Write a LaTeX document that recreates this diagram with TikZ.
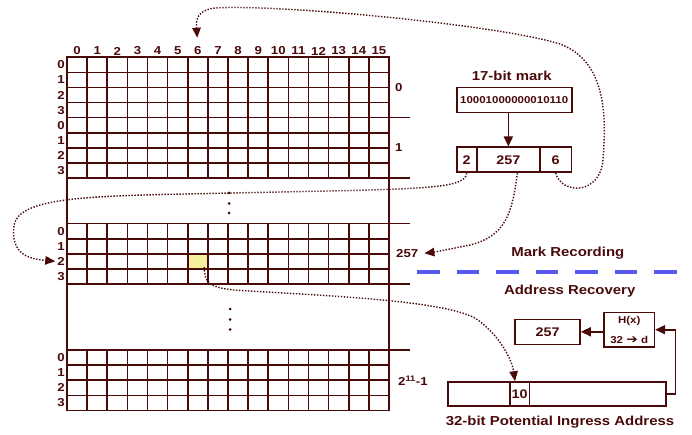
\documentclass[tikz,border=0pt]{standalone}
\usepackage{fontspec}
\setmainfont{Liberation Sans}[FakeStretch=1.15]
\newfontfamily\symfont{DejaVu Sans}[FakeStretch=1.15]
\usetikzlibrary{arrows.meta,calc}
\definecolor{markRed}{HTML}{4A0A0A}
\definecolor{cellYellow}{HTML}{F6F09C}
\definecolor{lineBlue}{HTML}{5A5AF0}
\tikzset{
  lbl/.style={font=\bfseries\fontsize{#1}{#1}\selectfont, text=markRed, inner sep=0pt},
  lbl/.default=11.5,
  gridline/.style={draw=markRed, line width=1.6pt},
  box/.style={draw=markRed, line width=1.6pt, inner sep=0pt, text=markRed, font=\bfseries\fontsize{#1}{#1}\selectfont},
  box/.default=12.5,
  arrflow/.style={-{Triangle[length=10pt,width=9pt]}, draw=markRed, line width=1.6pt},
  dotflow/.style={-{Triangle[length=10pt,width=8.5pt]}, draw=markRed, line width=1.4pt, dash pattern=on 1.4pt off 1.6pt},
}

\begin{document}
\begin{tikzpicture}[x=1pt, y=-1pt]
\useasboundingbox (0,0) rectangle (692,435);
\def\cw{20.125}
\def\rh{15.1}

% marked cell
\node[fill=cellYellow, inner sep=0pt, minimum width=20.125pt, minimum height=15.1pt] (ycell) at (67+6.5*\cw, 223.7+2.5*\rh) {};

% column numbers
\foreach \c in {0,...,15}
  \node[lbl] (col\c) at (67+\c*\cw+\cw/2, 51) {\c};

% blocks of 4 rows
\foreach \bt/\bn in {57.3/a, 117.7/b, 223.7/c, 350/d}{
  \foreach \r in {0,...,4}
    \draw[gridline] (67,\bt+\r*\rh) -- (389,\bt+\r*\rh);
  \foreach \c in {1,...,15}
    \draw[gridline] (67+\c*\cw,\bt) -- (67+\c*\cw,\bt+4*\rh);
  \foreach \r in {0,...,3}
    \node[lbl, anchor=east] (r\bn\r) at (65,\bt+\r*\rh+\rh/2) {\r};
}
\draw[gridline] (67,57.3) rectangle (389,410.4);
\foreach \y in {117.7,178.1,223.7,284.1,350}
  \draw[gridline] (389,\y) -- (410,\y);

% skipped blocks
\foreach \y in {193,203.5,213}
  \fill[markRed] (229,\y) circle (1.5pt);
\foreach \y in {309,319.5,329.5}
  \fill[markRed] (230,\y) circle (1.5pt);

% block numbers
\node[lbl, anchor=west] (blk0) at (395,88) {0};
\node[lbl, anchor=west] (blk1) at (395,148) {1};
\node[lbl, anchor=west] (blk257) at (396,254) {257};
\node[lbl, anchor=west] (blkN) at (398,381) {2\textsuperscript{11}-1};

% mark
\node[lbl=13] (markLbl) at (511.7,76) {17-bit mark};
\node[box=10, minimum width=115pt, minimum height=25pt] (mark) at (514.2,100.2) {10001000000010110};
\node[box=12.5, minimum width=20pt, minimum height=25pt] (f2) at (466.7,159.8) {2};
\node[box=12.5, minimum width=63.3pt, minimum height=25pt] (f257) at (508.35,159.8) {257};
\node[box=12.5, minimum width=31.3pt, minimum height=25pt] (f6) at (555.65,159.8) {6};
\draw[arrflow] (f257.north |- mark.south) -- (f257.north);

% recording / recovery
\node[lbl=13] (recLbl) at (567.8,253.3) {Mark Recording};
\node[lbl=13] (recovLbl) at (569.7,291) {Address Recovery};
\coordinate (dashL) at (417,271.7);
\coordinate (dashR) at (677,271.7);
\draw[lineBlue, line width=4.3pt, dash pattern=on 22.7pt off 16.8pt] (dashL) -- (dashR);

\node[box=12.5, minimum width=65pt, minimum height=25pt] (res) at (547.5,331.8) {257};
\node[box, minimum width=50.3pt, minimum height=34.7pt, align=center, font=\bfseries\fontsize{10}{20}\selectfont] (hash) at (629.2,329.7) {H(x)\\32 {\symfont\fontsize{12}{12}\selectfont ➔} d};
\node[box, minimum width=218pt, minimum height=24pt] (addr) at (556.7,394) {};
\node[box=12.5, minimum width=19.3pt, minimum height=24pt] (f10) at (519.7,394) {10};
\node[lbl=13] (addrLbl) at (560,421.7) {32-bit Potential Ingress Address};
\coordinate (turn) at (675.3,329.7);
\draw[arrflow] (hash.west |- res.east) -- (res.east);
\draw[arrflow] (addr.east) -| (turn) -- (hash.east);

% dotted links
\draw[dotflow, shorten >=9pt] (f6.south) .. controls (562,195) and (600,195) .. (603,160)
  .. controls (606,120) and (608,62) .. (560,44) .. controls (500,25) and (280,4) .. (215,8)
  .. controls (197,10) and (196,20) .. (col6.north);
\draw[dotflow, shorten >=2pt] (f2.south) .. controls (465,190) and (420,189) .. (230,193)
  .. controls (100,196) and (20,195) .. (14,225) .. controls (10,255) and (30,259) .. (rc2.west);
\draw[dotflow, shorten >=6pt] ([xshift=9pt]f257.south) .. controls (512,215) and (505,236) .. (470,245)
  .. controls (450,249) and (435,252) .. (blk257.east);
\draw[dotflow] ([xshift=-4pt,yshift=2pt]ycell.south east) .. controls (205,282) and (208,287) .. (233,290)
  .. controls (330,296) and (440,300) .. (475,318) .. controls (500,335) and (512,360) .. ([xshift=-4.7pt]f10.north);
\end{tikzpicture}
\end{document}
